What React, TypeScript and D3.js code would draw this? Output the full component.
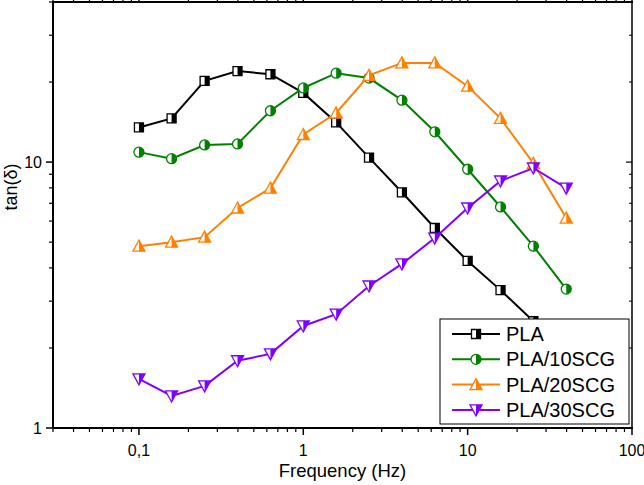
import React from 'react'
import * as d3 from 'd3'

const W = 644
const H = 485
const M = { left: 53, right: 12, top: 2, bottom: 57 }

const freq = [0.1, 0.158, 0.251, 0.398, 0.631, 1, 1.585, 2.512, 3.981, 6.31, 10, 15.85, 25.12, 39.81]
const pla = [13.5, 14.6, 20.2, 22.0, 21.4, 18.2, 14.1, 10.4, 7.7, 5.65, 4.25, 3.3, 2.52]
const pla10 = [10.9, 10.3, 11.6, 11.7, 15.6, 19.0, 21.6, 20.7, 17.1, 13.0, 9.4, 6.78, 4.83, 3.33]
const pla20 = [4.83, 5.0, 5.22, 6.72, 7.98, 12.7, 15.3, 21.2, 23.6, 23.6, 19.3, 14.6, 9.9, 6.16]
const pla30 = [1.53, 1.32, 1.44, 1.79, 1.9, 2.42, 2.68, 3.42, 4.14, 5.18, 6.72, 8.49, 9.5, 7.98]

const seriesNames = ['PLA', 'PLA/10SCG', 'PLA/20SCG', 'PLA/30SCG']
const seriesValues = [pla, pla10, pla20, pla30]
const colors = ['#000000', '#008000', '#ff8000', '#8000ff']
const shapes = ['square', 'circle', 'up', 'down']

const xMajor = [0.1, 1, 10, 100]
const xLabels = ['0,1', '1', '10', '100']
const yMajor = [1, 10]
const yLabels = ['1', '10']

const Marker = ({ shape, color, x, y, id }: { shape: string; color: string; x: number; y: number; id: string }) => {
  const s = 5
  let d = ''
  if (shape === 'square') d = `M${-s + 0.5},${-s + 0.5}H${s - 0.5}V${s - 0.5}H${-s + 0.5}Z`
  else if (shape === 'circle') d = d3.arc()({ innerRadius: 0, outerRadius: s, startAngle: 0, endAngle: 2 * Math.PI }) as string
  else if (shape === 'up') d = `M0,${-s - 1}L${s + 1},${s}L${-s - 1},${s}Z`
  else d = `M0,${s + 1}L${s + 1},${-s}L${-s - 1},${-s}Z`
  return (
    <g transform={`translate(${x},${y})`}>
      <clipPath id={id}>
        <rect x={0} y={-10} width={10} height={20} />
      </clipPath>
      <path d={d} fill="#fff" stroke="none" />
      <path d={d} fill={color} stroke="none" clipPath={`url(#${id})`} />
      <path d={d} fill="none" stroke={color} strokeWidth={1.3} />
    </g>
  )
}

export default function App() {
  const x = d3.scaleLog().domain([0.03, 100]).range([M.left, W - M.right])
  const y = d3.scaleLog().domain([1, 40]).range([H - M.bottom, M.top])
  const line = d3.line<number>()

  const xMinor: number[] = []
  for (let e = -2; e <= 1; e++) for (let k = 2; k <= 9; k++) {
    const v = k * Math.pow(10, e)
    if (v >= 0.03 && v <= 100) xMinor.push(v)
  }
  const yMinor: number[] = []
  for (let e = 0; e <= 1; e++) for (let k = 2; k <= 9; k++) {
    const v = k * Math.pow(10, e)
    if (v <= 40) yMinor.push(v)
  }

  const x0 = M.left
  const x1 = W - M.right
  const y0 = H - M.bottom
  const y1 = M.top
  const font = 'Arial, "Liberation Sans", sans-serif'

  const lx = 440
  const ly = 319

  return (
    <svg width={W} height={H} style={{ position: 'absolute', left: 0, top: 0, background: '#fff' }} fontFamily={font}>
      {/* series */}
      {seriesValues.map((vals, si) => (
        <g key={si}>
          <path
            d={line(vals.map((v, i) => [x(freq[i]), y(v)]) as any) as string}
            fill="none"
            stroke={colors[si]}
            strokeWidth={2}
          />
          {vals.map((v, i) => (
            <Marker key={i} id={`c${si}-${i}`} shape={shapes[si]} color={colors[si]} x={x(freq[i])} y={y(v)} />
          ))}
        </g>
      ))}

      {/* axes frame */}
      <line x1={x0} x2={x0} y1={y1} y2={y0 + 1} stroke="#000" strokeWidth={2} />
      <line x1={x1} x2={x1} y1={y1} y2={y0 + 1} stroke="#000" strokeWidth={1.5} />
      <line x1={x0 - 1} x2={x1 + 1} y1={y0} y2={y0} stroke="#000" strokeWidth={2} />
      <line x1={x0 - 1} x2={x1 + 1} y1={y1} y2={y1} stroke="#000" strokeWidth={2} />

      {/* x ticks */}
      {xMajor.map((v, i) => (
        <g key={'xm' + i}>
          <line x1={x(v)} x2={x(v)} y1={y0} y2={y0 + 7} stroke="#000" strokeWidth={1.5} />
          <line x1={x(v)} x2={x(v)} y1={y1} y2={y1 - 6} stroke="#000" strokeWidth={1.5} />
          <text x={x(v)} y={y0 + 28} textAnchor="middle" fontSize={16}>{xLabels[i]}</text>
        </g>
      ))}
      {xMinor.map((v, i) => (
        <g key={'xn' + i}>
          <line x1={x(v)} x2={x(v)} y1={y0} y2={y0 + 4} stroke="#000" strokeWidth={1.2} />
          <line x1={x(v)} x2={x(v)} y1={y1} y2={y1 - 4} stroke="#000" strokeWidth={1.2} />
        </g>
      ))}

      {/* y ticks */}
      {yMajor.map((v, i) => (
        <g key={'ym' + i}>
          <line x1={x0} x2={x0 - 7} y1={y(v)} y2={y(v)} stroke="#000" strokeWidth={1.5} />
          <line x1={x1} x2={x1 - 6} y1={y(v)} y2={y(v)} stroke="#000" strokeWidth={1.2} />
          <text x={x0 - 11} y={y(v) + 6} textAnchor="end" fontSize={16}>{yLabels[i]}</text>
        </g>
      ))}
      {yMinor.map((v, i) => (
        <g key={'yn' + i}>
          <line x1={x0} x2={x0 - 4} y1={y(v)} y2={y(v)} stroke="#000" strokeWidth={1.2} />
          <line x1={x1} x2={x1 - 3} y1={y(v)} y2={y(v)} stroke="#000" strokeWidth={1} />
        </g>
      ))}

      {/* axis titles */}
      <text x={(x0 + x1) / 2} y={H - 8} textAnchor="middle" fontSize={18.5}>Frequency (Hz)</text>
      <text transform={`translate(17,${(y0 + y1) / 2 - 28}) rotate(-90)`} textAnchor="middle" fontSize={18}>tan(δ)</text>

      {/* legend */}
      <rect x={lx} y={ly} width={189} height={105} fill="#fff" stroke="#000" strokeWidth={1} />
      {seriesNames.map((n, i) => {
        const cy = ly + 15 + i * 25.3
        return (
          <g key={'lg' + i}>
            <line x1={lx + 12} x2={lx + 60} y1={cy} y2={cy} stroke={colors[i]} strokeWidth={2} />
            <Marker id={`lgc${i}`} shape={shapes[i]} color={colors[i]} x={lx + 36} y={cy} />
            <text x={lx + 66} y={cy + 7} fontSize={20}>{n}</text>
          </g>
        )
      })}
    </svg>
  )
}
